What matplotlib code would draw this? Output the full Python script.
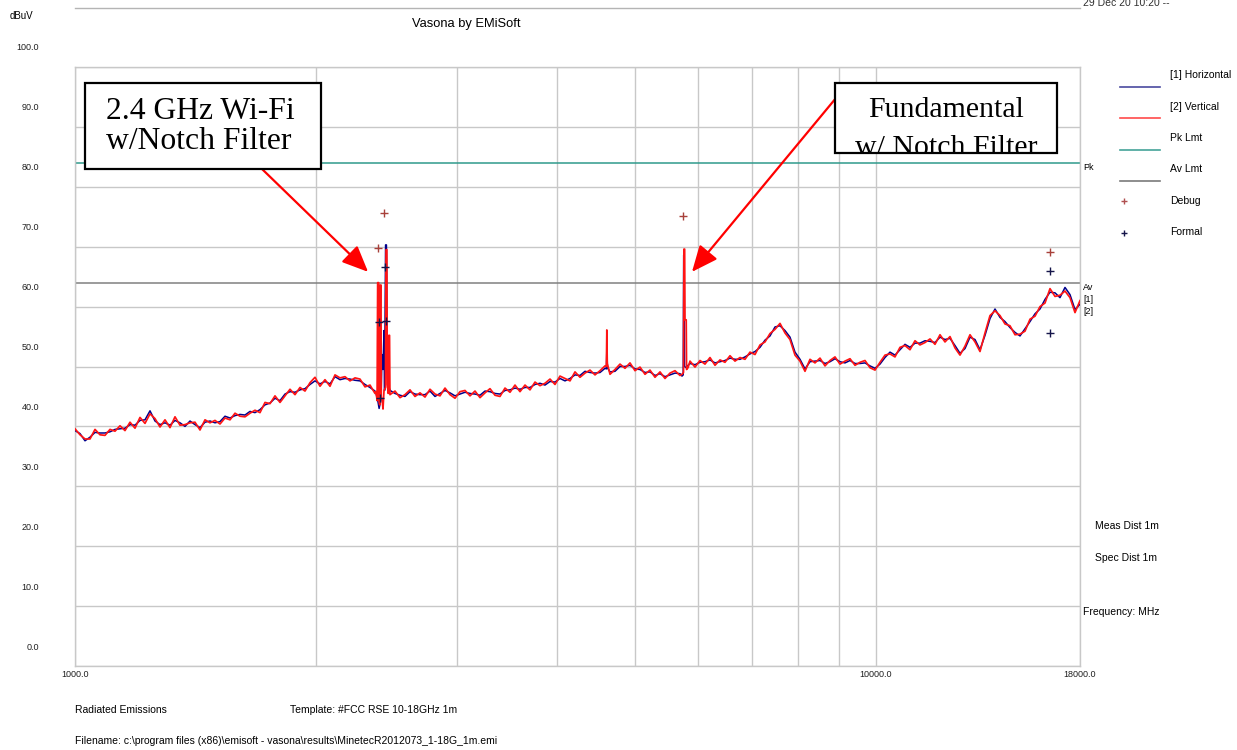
import numpy as np
import matplotlib
matplotlib.use('Agg')
import matplotlib.pyplot as plt
import matplotlib.transforms as mtransforms
from matplotlib.lines import Line2D
from matplotlib.patches import Rectangle

plt.rcParams['font.family'] = ['Liberation Sans', 'DejaVu Sans']

# sweep points, 1 - 18 GHz log spaced
sweep_mhz = np.geomspace(1000.0, 18000.0, 202)

# [2] Vertical, dBuV
vert_db = [39.6, 38.6, 37.9, 37.9, 39.5, 38.6, 38.5, 39.5, 39.2, 40.1,
           39.3, 40.7, 39.7, 41.5, 40.5, 42.1, 41.3, 39.9, 41.1, 39.8,
           41.6, 40.2, 40.3, 40.6, 40.7, 39.4, 41.1, 40.6, 41.0, 40.4,
           41.4, 41.1, 42.2, 41.7, 41.6, 42.2, 42.7, 42.3, 44.0, 43.8,
           45.1, 44.0, 45.1, 46.2, 45.3, 46.5, 45.9, 47.3, 48.2, 46.7,
           47.8, 46.7, 48.6, 48.1, 48.3, 47.6, 48.1, 47.9, 46.6, 46.9,
           45.5, 45.0, 45.0, 45.0,
           45.9, 44.8, 45.3, 46.1, 45.0, 45.6,
           44.9, 46.2, 45.4, 45.1, 46.4, 45.3, 44.7, 45.8, 46.0, 45.1,
           45.9, 44.8, 45.6, 46.3, 45.2, 45.0, 46.4, 45.7, 46.9, 45.8,
           46.9, 46.1, 47.4, 46.8, 47.2, 47.9, 47.0, 48.4, 48.0, 47.6,
           49.1, 48.2, 48.9, 49.4, 48.6, 49.3, 50.1, 48.7, 49.5, 50.4,
           49.7, 50.6, 49.3, 49.9, 48.7, 49.4, 48.2, 49.1, 48.0, 48.9,
           49.3, 48.5, 49.4,
           50.9, 49.9, 51.0, 50.4, 51.5, 50.2, 51.1, 50.7, 51.8, 50.9, 51.5, 51.2,
           52.4, 52.0, 53.6, 54.1, 55.5, 56.2, 57.2, 55.6, 54.5, 51.9, 50.9,
           49.2, 51.2, 50.6, 51.4, 50.1, 51.0, 51.6, 50.4, 50.9, 51.3, 50.2, 50.7, 51.0, 49.8, 49.4,
           50.7, 51.9, 52.1, 51.6, 53.2, 53.5, 52.8, 54.3, 53.6, 54.0, 54.6, 53.7, 55.3, 54.1, 55.0,
           53.1, 51.9, 53.4, 55.3, 54.1, 52.5, 55.6, 58.5, 59.3, 58.5, 57.1, 56.8, 55.3, 55.4, 55.9,
           57.9, 58.4, 60.0, 60.6, 63.0, 61.7, 61.9, 62.6, 61.5, 59.0, 61.0]

# [1] Horizontal
horiz_db = [39.3, 38.8, 37.6, 38.2, 39.0, 38.9, 38.9, 39.1, 39.5, 39.6,
            39.7, 40.3, 40.2, 41.0, 41.1, 42.6, 40.9, 40.3, 40.6, 40.2,
            41.0, 40.6, 40.0, 40.9, 40.3, 39.8, 40.7, 40.9, 40.6, 40.8,
            41.7, 41.4, 41.8, 42.0, 41.9, 42.5, 42.3, 42.8, 43.6, 43.9,
            44.7, 44.3, 45.4, 45.8, 45.7, 46.1, 46.3, 47.0, 47.6, 47.1,
            47.5, 47.1, 48.3, 47.8, 48.0, 47.9, 47.7, 47.6, 47.0, 46.5,
            45.9, 45.0, 45.0, 45.0,
            45.5, 45.2, 45.0, 45.8, 45.4, 45.3,
            45.3, 45.9, 45.0, 45.5, 46.0, 45.6, 45.1, 45.4, 45.7, 45.5,
            45.4, 45.2, 45.9, 45.8, 45.5, 45.4, 46.0, 46.1, 46.4, 46.2,
            46.5, 46.5, 47.0, 47.2, 46.9, 47.5, 47.4, 48.0, 47.6, 48.0,
            48.6, 48.5, 49.2, 49.0, 48.9, 49.0, 49.7, 49.1, 49.2, 50.0,
            50.0, 50.2, 49.6, 49.5, 49.0, 49.1, 48.5, 48.8, 48.3, 48.6,
            48.9, 48.8, 49.2,
            50.5, 50.3, 50.7, 50.8, 51.1, 50.6, 50.8, 51.0, 51.4, 51.2, 51.2, 51.6,
            52.1, 52.5, 53.2, 54.4, 55.1, 56.6, 56.8, 56.0, 54.9, 52.4, 51.2,
            49.6, 50.8, 50.9, 51.0, 50.5, 50.8, 51.3, 50.8, 50.6, 51.0, 50.5, 50.5, 50.6, 50.1, 49.7,
            50.4, 51.5, 52.4, 51.9, 52.8, 53.7, 53.2, 53.9, 53.9, 54.3, 54.2, 54.0, 54.9, 54.5, 54.7,
            53.5, 52.2, 53.0, 54.9, 54.5, 52.8, 55.2, 58.0, 59.6, 58.2, 57.5, 56.5, 55.7, 55.1, 56.3,
            57.5, 58.8, 59.6, 61.2, 62.4, 62.3, 61.5, 63.2, 62.0, 59.5, 60.4]

# spikes (MHz, dBuV); sweep points inside these windows are replaced
spike_windows = [(2380, 2480), (4600, 4640), (5720, 5850)]

vert_spike_mhz = [2377, 2384, 2388, 2395, 2397, 2402, 2406, 2411, 2413, 2420,
                  2425, 2432, 2442, 2446, 2452, 2455, 2462, 2466, 2471, 2474,
                  4610, 4616, 4622,
                  5730, 5755, 5762, 5774, 5779, 5800, 5806, 5830]
vert_spike_db = [45.8, 44.3, 64.0, 64.0, 44.5, 43.6, 63.6, 63.6, 45.0, 44.2,
                 42.9, 46.0, 46.5, 69.5, 69.5, 47.0, 45.5, 55.2, 55.2, 45.3,
                 50.0, 56.1, 50.5,
                 48.7, 49.0, 69.6, 69.6, 57.8, 57.8, 49.5, 49.8]

horiz_spike_mhz = [2377, 2391, 2398, 2411, 2418, 2425, 2432, 2436, 2443, 2449,
                   2453, 2460, 2475,
                   4610, 4617, 4624,
                   5730, 5750, 5758, 5766, 5772, 5800, 5830]
horiz_spike_db = [45.5, 44.0, 43.0, 44.5, 52.0, 49.5, 56.0, 46.0, 70.3, 70.3,
                  56.0, 47.0, 46.0,
                  49.6, 53.2, 49.8,
                  48.4, 48.6, 68.6, 68.6, 50.0, 49.8, 50.2]

pk_limit = 84.0
av_limit = 64.0

debug_mhz = [2391, 2432, 5746, 16511]
debug_db = [69.8, 75.6, 75.1, 69.1]
formal_mhz = [2439, 2398, 2446, 2404, 16511, 16511]
formal_db = [66.6, 57.4, 57.6, 44.7, 65.9, 55.6]

y_ticks = [0, 10, 20, 30, 40, 50, 60, 70, 80, 90, 100]
x_ticks = [1000, 10000, 18000]
x_minor = [2000, 3000, 4000, 5000, 6000, 7000, 8000, 9000]

NAVY = '#00008b'
RED = '#ff1414'
TEAL = '#2f9a8c'
GRID = '#c8c8c8'
W, H = 1237, 750


def build_trace(base, spk_f, spk_v):
	keep = np.ones(len(sweep_mhz), bool)
	for lo, hi in spike_windows:
		keep &= ~((sweep_mhz > lo) & (sweep_mhz < hi))
	f = np.concatenate([sweep_mhz[keep], spk_f])
	v = np.concatenate([np.asarray(base)[keep], spk_v])
	order = np.argsort(f, kind='stable')
	return f[order], v[order]


def px(x, y):
	# reference pixel -> figure fraction
	return x / W, 1 - y / H


fig = plt.figure(figsize=(W / 100, H / 100), dpi=100)
ax = fig.add_axes([75 / W, (H - 666) / H, 1005 / W, 599 / H])

hf, hv = build_trace(horiz_db, horiz_spike_mhz, horiz_spike_db)
vf, vv = build_trace(vert_db, vert_spike_mhz, vert_spike_db)
ax.plot(hf, hv, color=NAVY, lw=1.1, zorder=3)
ax.plot(vf, vv, color=RED, lw=1.25, zorder=4)

ax.axhline(pk_limit, color=TEAL, lw=1.1, zorder=2)
ax.axhline(av_limit, color='#808080', lw=1.1, zorder=2)

ax.plot(debug_mhz, debug_db, ls='none', marker='+', ms=6, mew=1.0, color='#a8403a', zorder=5)
ax.plot(formal_mhz, formal_db, ls='none', marker='+', ms=6, mew=1.0, color='#15154a', zorder=5)

ax.set_xscale('log')
ax.set_xlim(1000, 18000)
ax.set_ylim(0, 100)
ax.set_xticks(x_ticks)
ax.set_xticklabels(['%.1f' % t for t in x_ticks])
ax.set_xticks(x_minor, minor=True)
ax.set_xticklabels([], minor=True)
ax.set_yticks(y_ticks)
ax.set_yticklabels(['%.1f' % t for t in y_ticks])
ax.tick_params(which='both', length=0, labelsize=6.5, colors='#202020')
ax.tick_params(axis='y', pad=26)
ax.tick_params(axis='x', pad=3)
# y labels sit above their gridlines in the original
shift = mtransforms.ScaledTranslation(0, 0.20, fig.dpi_scale_trans)
for lab in ax.get_yticklabels():
	lab.set_transform(lab.get_transform() + shift)
ax.grid(True, which='both', color=GRID, lw=1.0, zorder=0)
for s in ax.spines.values():
	s.set_color(GRID)
	s.set_linewidth(1.0)

# limit / trace tags on the right
ax.text(1.003, pk_limit, 'Pk', transform=ax.get_yaxis_transform(), va='top', ha='left', fontsize=6.5)
ax.text(1.003, av_limit, 'Av', transform=ax.get_yaxis_transform(), va='top', ha='left', fontsize=6.5)
fig.text(*px(1083, 299), '[1]', va='center', fontsize=6.5)
fig.text(*px(1083, 311), '[2]', va='center', fontsize=6.5)

# header
fig.add_artist(Line2D([75 / W, 1080 / W], [1 - 8 / H] * 2, color='#b4b4b4', lw=1.0))
fig.text(*px(1083, 3), '29 Dec 20 10:20 --', va='center', fontsize=7.5, color='#303030')
fig.text(*px(466, 24), 'Vasona by EMiSoft', ha='center', va='center', fontsize=9.3)
fig.text(*px(10, 16), 'dBuV', va='center', fontsize=7)

# legend
legend_rows = [('[1] Horizontal', '#4a4aa0', 75, 87, 'line'),
               ('[2] Vertical', '#ff4a4a', 107, 118, 'line'),
               ('Pk Lmt', '#44a398', 138, 150, 'line'),
               ('Av Lmt', '#7a7a7a', 169, 181, 'line'),
               ('Debug', '#b05050', 201, 201, 'plus'),
               ('Formal', '#15154a', 232, 233, 'plus')]
for name, col, ty, my, kind in legend_rows:
	fig.text(*px(1170, ty), name, va='center', fontsize=7.5)
	if kind == 'line':
		fig.add_artist(Line2D([1120 / W, 1160 / W], [1 - my / H] * 2, color=col, lw=1.2))
	else:
		fig.add_artist(Line2D([1124 / W], [1 - my / H], ls='none', marker='+', ms=5,
		                      mew=1.0, color=col))

fig.text(*px(1095, 526), 'Meas Dist 1m', va='center', fontsize=7.5)
fig.text(*px(1095, 558), 'Spec Dist 1m', va='center', fontsize=7.5)
fig.text(*px(1083, 612), 'Frequency: MHz', va='center', fontsize=7.5)

# footer
fig.text(*px(75, 710), 'Radiated Emissions', va='center', fontsize=7.5)
fig.text(*px(290, 710), 'Template: #FCC RSE 10-18GHz 1m', va='center', fontsize=7.5)
fig.text(*px(75, 741), 'Filename: c:\\program files (x86)\\emisoft - vasona\\results\\MinetecR2012073_1-18G_1m.emi',
         va='center', fontsize=7.5)

# callout boxes
serif = ['Liberation Serif', 'DejaVu Serif']
box1 = Rectangle(px(85, 169), 236 / W, 86 / H, transform=fig.transFigure,
                 facecolor='white', edgecolor='black', lw=1.6, zorder=10)
fig.add_artist(box1)
for txt, base in [('2.4 GHz Wi-Fi', 119), ('w/Notch Filter', 149)]:
	t = fig.text(*px(106, base), txt, ha='left', va='baseline', fontsize=22.8,
	             family=serif, zorder=11)

box2 = Rectangle(px(835, 153), 222 / W, 70 / H, transform=fig.transFigure,
                 facecolor='white', edgecolor='black', lw=1.6, zorder=10)
fig.add_artist(box2)
for txt, base in [('Fundamental', 117), ('w/ Notch Filter', 155)]:
	t = fig.text(*px(946, base), txt, ha='center', va='baseline', fontsize=21.5,
	             family=serif, zorder=11)
	t.set_clip_path(box2)

# red arrows to the notched peaks
arrow = dict(arrowstyle='-|>,head_length=0.8,head_width=0.35', color='red', lw=1.6,
             mutation_scale=20, shrinkA=0, shrinkB=0)
ax.annotate('', xy=(2323, 65.8), xytext=(262, H - 169), textcoords='figure pixels',
            arrowprops=arrow, annotation_clip=False, zorder=9)
ax.annotate('', xy=(5897, 65.8), xytext=(836, H - 98), textcoords='figure pixels',
            arrowprops=arrow, annotation_clip=False, zorder=9)

fig.savefig('out.png', dpi=100)
